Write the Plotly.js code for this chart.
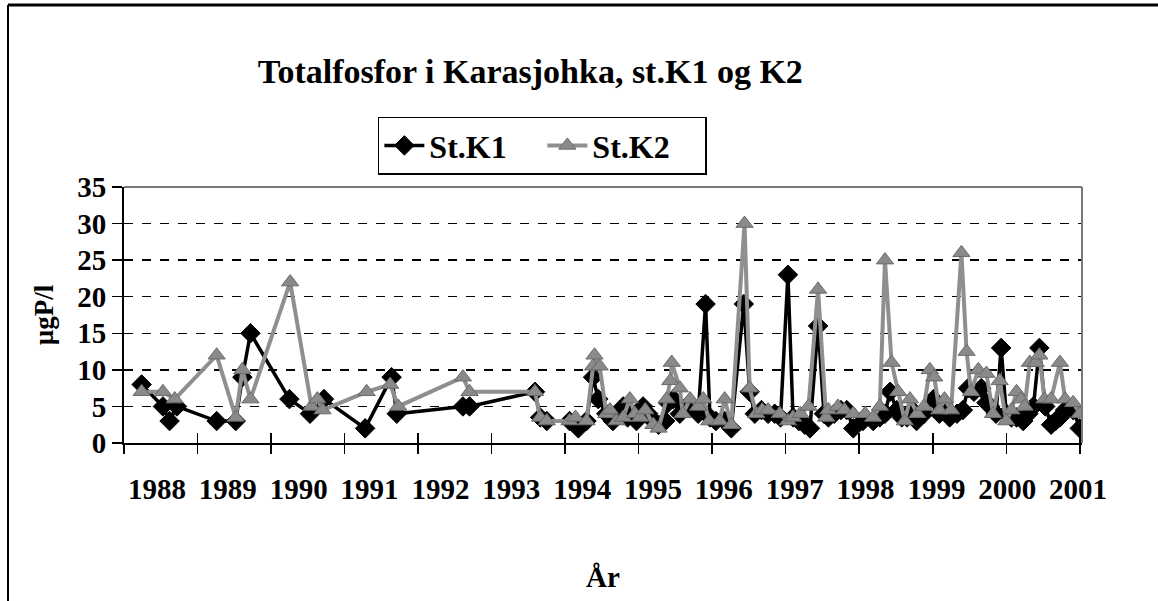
<!DOCTYPE html>
<html>
<head>
<meta charset="utf-8">
<script src="https://cdn.plot.ly/plotly-3.0.1.min.js"></script>
<style>html,body{margin:0;padding:0;background:#fff;}#chart{width:1158px;height:601px;}</style>
</head>
<body>
<div id="chart"></div>
<script>
// Station K1 (black diamonds): decimal year and µgP/l
var k1Years = [1988.24,1988.53,1988.62,1988.72,1989.26,1989.52,1989.61,1989.72,1990.25,1990.53,1990.72,1991.28,1991.64,1991.71,1992.61,1992.70,1993.59,1993.66,1993.75,1994.06,1994.18,1994.29,1994.38,1994.45,1994.56,1994.65,1994.72,1994.79,1994.85,1994.90,1994.97,1995.06,1995.13,1995.20,1995.27,1995.36,1995.40,1995.47,1995.56,1995.65,1995.72,1995.81,1995.91,1995.97,1996.05,1996.17,1996.26,1996.43,1996.51,1996.58,1996.67,1996.76,1996.85,1996.93,1997.03,1997.10,1997.18,1997.26,1997.33,1997.44,1997.52,1997.58,1997.66,1997.75,1997.83,1997.92,1998.05,1998.19,1998.28,1998.35,1998.42,1998.51,1998.58,1998.65,1998.72,1998.78,1998.88,1999.01,1999.09,1999.16,1999.23,1999.33,1999.41,1999.48,1999.56,1999.66,1999.73,1999.78,1999.86,1999.93,2000.00,2000.07,2000.14,2000.23,2000.30,2000.37,2000.45,2000.53,2000.61,2000.67,2000.73,2000.80,2000.91,2001.00];
var k1Values = [8,5,3,5,3,3,9,15,6,4,6,2,9,4,5,5,7,3.5,3,3,2,3,9,6,4,3,4,5,3.5,4,3,5,4,3,2.5,3,5.5,6,4,5,5,4,19,3.5,3,3,2,19,7,4,4.5,4,4,3.5,23,3.5,3,2.5,2,16,4,3.5,4,4.5,4.5,2,3,3,3.5,4,7,4.5,3.5,3.5,4.5,3,4,6,4,4.5,3.5,4,4.5,7.5,7,7.5,5.5,5,4,13,4,3.5,3.5,3,4,5,13,5,2.5,3,3.5,4.5,4.5,2];

// Station K2 (grey triangles)
var k2Years = [1988.24,1988.53,1988.69,1989.26,1989.52,1989.61,1989.72,1990.26,1990.55,1990.63,1990.70,1991.30,1991.62,1991.73,1992.61,1992.70,1993.59,1993.66,1993.75,1994.06,1994.14,1994.29,1994.38,1994.40,1994.47,1994.56,1994.61,1994.70,1994.79,1994.88,1994.95,1995.02,1995.09,1995.20,1995.27,1995.38,1995.43,1995.45,1995.56,1995.60,1995.70,1995.81,1995.88,1995.96,1996.10,1996.17,1996.26,1996.44,1996.51,1996.60,1996.68,1996.76,1996.92,1997.03,1997.10,1997.20,1997.31,1997.44,1997.55,1997.58,1997.71,1997.80,1997.92,1998.08,1998.19,1998.28,1998.35,1998.44,1998.53,1998.62,1998.69,1998.79,1998.88,1998.96,1999.02,1999.09,1999.16,1999.25,1999.39,1999.46,1999.52,1999.62,1999.73,1999.82,1999.91,2000.00,2000.07,2000.14,2000.20,2000.25,2000.32,2000.40,2000.45,2000.52,2000.61,2000.73,2000.80,2000.91,2001.00];
var k2Values = [7,7,6,12,3.5,10,6,22,5,6,4.5,7,8,5,9,7,7,3.5,3,3,3.5,3,10.5,12,10.5,4,4.5,3,3.5,6,4,3.5,4.5,2.5,2,6,8.5,11,7.5,4,6,5,6,3,3,6,2.5,30,7.5,4,4.5,4.5,4,3,3.5,4,5,21,3.5,4.5,5,4.5,4,4,3.5,5,25,11,7,3,6,4,5,10,9,4.5,6,4.5,26,12.5,7,10,9.5,4,8.5,3,4.5,7,6,5,11,11,12,6,6,11,6,5.5,4];

var yearTicks = [1988,1989,1990,1991,1992,1993,1994,1995,1996,1997,1998,1999,2000,2001];
var yTicks = [0,5,10,15,20,25,30,35];

var FONT = "'Liberation Serif', 'Times New Roman', 'DejaVu Serif', serif";

var traces = [
  {x: k1Years, y: k1Values, name: '<b>St.K1</b>', type: 'scatter', mode: 'lines+markers',
   line: {color: '#000000', width: 3.5},
   marker: {symbol: 'diamond', size: 15, color: '#000000', line: {color: '#000000', width: 1}}},
  {x: k2Years, y: k2Values, name: '<b>St.K2</b>', type: 'scatter', mode: 'lines+markers',
   line: {color: '#8f8f8f', width: 4},
   marker: {symbol: 'triangle-up', size: 15, color: '#8a8a8a', line: {color: '#6a6a6a', width: 1}}},
  {x: [], y: [], xaxis: 'x2', showlegend: false, hoverinfo: 'skip', type: 'scatter'},
  {x: [], y: [], xaxis: 'x3', showlegend: false, hoverinfo: 'skip', type: 'scatter'}
];

var layout = {
  width: 1158, height: 601,
  paper_bgcolor: '#ffffff', plot_bgcolor: '#ffffff',
  margin: {l: 124, r: 76, t: 187, b: 158},
  font: {family: FONT, color: '#000000'},
  title: {text: '<b>Totalfosfor i Karasjohka, st.K1 og K2</b>', font: {family: FONT, size: 34, color: '#000'},
          x: 0.458, xanchor: 'center', y: 0.882, yanchor: 'middle', xref: 'container', yref: 'container'},
  showlegend: true,
  legend: {orientation: 'h', x: 0.265, xanchor: 'left', y: 1.275, yanchor: 'top',
           bgcolor: '#ffffff', bordercolor: '#000000', borderwidth: 1.5,
           font: {family: FONT, size: 32, color: '#000'}, itemwidth: 40, entrywidth: 108, entrywidthmode: 'pixels', tracegroupgap: 0},
  xaxis: {range: [1988, 2001.03], tickvals: yearTicks, showticklabels: false,
          ticks: 'inside', ticklen: 10, tickwidth: 1.5, tickcolor: '#000',
          showgrid: false, zeroline: false, showline: true, linecolor: '#000', linewidth: 2,
          mirror: false},
  xaxis3: {range: [1988, 2001.03], overlaying: 'x', anchor: 'y', side: 'bottom', tickvals: yearTicks,
           showticklabels: false, ticks: 'outside', ticklen: 10, tickwidth: 1.5, tickcolor: '#000',
           showgrid: false, zeroline: false, showline: false},
  xaxis2: {range: [1987.534, 2001.055], overlaying: 'x', anchor: 'y', side: 'bottom', tickvals: yearTicks,
           ticktext: yearTicks.map(function(v){return '<b>' + v + '</b>';}),
           ticks: 'outside', ticklen: 20, tickcolor: 'rgba(0,0,0,0)',
           tickfont: {family: FONT, size: 29, color: '#000'},
           showgrid: false, zeroline: false, showline: false,
           title: {text: '<b>År</b>', font: {family: FONT, size: 29, color: '#000'}, standoff: 62}},
  yaxis: {range: [0, 35], tickvals: yTicks, ticktext: yTicks.map(function(v){return '<b>' + v + '</b>';}),
          tickfont: {family: FONT, size: 29, color: '#000'},
          ticks: 'outside', ticklen: 10, tickwidth: 1.5, tickcolor: '#000',
          showgrid: true, gridcolor: '#000000', griddash: 'dash', gridwidth: 1.5,
          zeroline: false, showline: true, linecolor: '#000', linewidth: 2,
          title: {text: '<b>µgP/l</b>', font: {family: FONT, size: 27, color: '#000'}, standoff: 16}},
  shapes: [
    {type: 'line', xref: 'paper', yref: 'paper', x0: 0, x1: 1, y0: 1, y1: 1, line: {color: '#777', width: 2}},
    {type: 'line', xref: 'paper', yref: 'paper', x0: 1, x1: 1, y0: 0, y1: 1, line: {color: '#777', width: 2}},
    {type: 'line', xref: 'paper', yref: 'paper', x0: (8-124)/958, x1: (8-124)/958, y0: (443-5)/256, y1: (443-601)/256, line: {color: '#000', width: 2}},
    {type: 'line', xref: 'paper', yref: 'paper', x0: (8-124)/958, x1: (1158-124)/958, y0: (443-5)/256, y1: (443-5)/256, line: {color: '#000', width: 3}}
  ]
};

Plotly.newPlot('chart', traces, layout, {displayModeBar: false, staticPlot: true});
</script>
</body>
</html>
